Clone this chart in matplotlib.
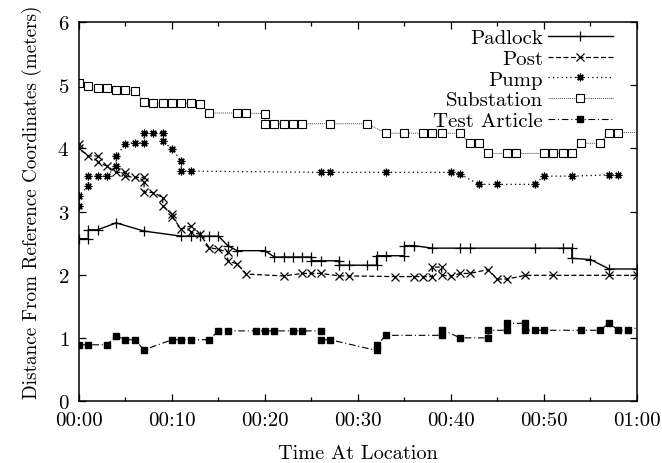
import matplotlib
matplotlib.use("Agg")
import matplotlib.pyplot as plt
from matplotlib.ticker import MultipleLocator, FuncFormatter

plt.rcParams['font.family'] = ['cmr10', 'DejaVu Serif']
plt.rcParams['axes.formatter.use_mathtext'] = True
plt.rcParams['font.size'] = 15

# time in minutes, distance in meters
padlock_t = [0, 1, 1, 2, 4, 7, 11, 12, 13, 14, 15, 16, 17, 20, 21, 22, 23, 24, 25, 25, 26, 28, 28, 29,
             31, 32, 32, 33, 35, 35, 36, 38, 41, 42, 49, 52, 53, 53, 55, 57, 60]
padlock_d = [2.57, 2.57, 2.71, 2.71, 2.82, 2.69, 2.61, 2.61, 2.61, 2.61, 2.61, 2.46, 2.38, 2.38, 2.28,
             2.28, 2.28, 2.28, 2.28, 2.22, 2.22, 2.22, 2.15, 2.15, 2.15, 2.15, 2.30, 2.30, 2.30, 2.46,
             2.46, 2.42, 2.42, 2.42, 2.42, 2.42, 2.42, 2.26, 2.24, 2.09, 2.09]

post_t = [0, 0, 1, 2, 2, 3, 4, 5, 5, 6, 7, 7, 7, 8, 9, 9, 10, 10, 11, 12, 12, 13, 14, 15, 16, 16, 17, 18,
          22, 24, 25, 26, 28, 29, 34, 36, 37, 38, 38, 39, 39, 40, 41, 42, 44, 45, 46, 48, 51, 57, 60]
post_d = [4.07, 4.00, 3.88, 3.88, 3.78, 3.72, 3.62, 3.62, 3.56, 3.54, 3.54, 3.46, 3.31, 3.30, 3.22, 3.09,
          2.96, 2.92, 2.72, 2.77, 2.67, 2.64, 2.43, 2.40, 2.36, 2.22, 2.17, 2.01, 1.98, 2.02, 2.02, 2.02,
          1.98, 1.98, 1.97, 1.97, 1.97, 1.97, 2.12, 2.12, 1.99, 1.98, 2.02, 2.02, 2.08, 1.93, 1.93, 1.99,
          1.99, 1.99, 1.99]

pump_t = [0, 0, 1, 1, 2, 3, 4, 4, 5, 6, 7, 7, 8, 9, 9, 10, 11, 11, 12, 26, 27, 33, 40, 41, 43, 45, 49,
          50, 53, 57, 58]
pump_d = [3.09, 3.25, 3.41, 3.56, 3.56, 3.56, 3.72, 3.88, 4.07, 4.09, 4.09, 4.25, 4.25, 4.25, 4.12, 3.99,
          3.80, 3.64, 3.64, 3.62, 3.62, 3.62, 3.62, 3.59, 3.43, 3.43, 3.43, 3.56, 3.56, 3.58, 3.58]

substation_t = [0, 1, 2, 3, 4, 5, 6, 7, 8, 9, 10, 11, 12, 13, 14, 17, 18, 20, 20, 21, 22, 23, 24, 27, 31,
                33, 35, 37, 38, 39, 41, 42, 43, 44, 46, 47, 50, 51, 52, 53, 54, 56, 57, 58, 61]
substation_d = [5.04, 4.99, 4.96, 4.95, 4.93, 4.92, 4.91, 4.74, 4.72, 4.72, 4.72, 4.72, 4.71, 4.70, 4.56,
                4.56, 4.56, 4.55, 4.39, 4.39, 4.39, 4.39, 4.39, 4.39, 4.39, 4.24, 4.24, 4.24, 4.24, 4.24,
                4.24, 4.08, 4.08, 3.92, 3.92, 3.92, 3.92, 3.92, 3.92, 3.92, 4.08, 4.08, 4.25, 4.25, 4.25]

test_t = [0, 1, 3, 4, 5, 6, 7, 10, 11, 12, 14, 15, 16, 19, 20, 21, 23, 24, 26, 26, 27, 32, 32, 33, 39, 39,
          41, 44, 44, 46, 46, 48, 48, 49, 50, 54, 56, 57, 58, 59, 61]
test_d = [0.89, 0.89, 0.89, 1.03, 0.97, 0.97, 0.81, 0.97, 0.97, 0.97, 0.97, 1.11, 1.11, 1.11, 1.11, 1.11,
          1.11, 1.11, 1.11, 0.97, 0.97, 0.80, 0.88, 1.04, 1.04, 1.13, 1.00, 1.00, 1.12, 1.12, 1.23, 1.23,
          1.12, 1.12, 1.12, 1.12, 1.12, 1.23, 1.12, 1.12, 1.20]

fig = plt.figure(figsize=(6.62, 4.64), dpi=100)
ax = fig.add_axes([0.1193, 0.1336, 0.8429, 0.8168])

ax.plot(padlock_t, padlock_d, color='black', lw=1.0, ls='-', marker='+', ms=7, mew=0.9, label='Padlock')
ax.plot(post_t, post_d, color='black', lw=0.9, ls=(0, (4, 2)), marker='x', ms=5.5, mew=0.9, label='Post')
ax.plot(pump_t, pump_d, color='black', lw=0.9, ls=(0, (1, 2.5)), marker=(8, 2, 0), ms=5.5, mew=0.9,
        label='Pump')
ax.plot(substation_t, substation_d, color='#444444', lw=0.7, ls=(0, (1, 1)), marker='s', ms=5.5,
        mfc='white', mec='black', mew=0.8, label='Substation')
ax.plot(test_t, test_d, color='black', lw=0.8, ls=(0, (6, 2.5, 1, 2.5)), marker='s', ms=5, mfc='black',
        mec='black', label='Test Article')

ax.set_xlim(0, 60)
ax.set_ylim(0, 6)
ax.xaxis.set_major_locator(MultipleLocator(10))
ax.xaxis.set_minor_locator(MultipleLocator(5))
ax.yaxis.set_major_locator(MultipleLocator(1))
ax.xaxis.set_major_formatter(FuncFormatter(lambda v, p: '%02d:%02d' % (int(v) // 60, int(v) % 60) if v < 60 else '01:00'))
ax.tick_params(which='both', direction='in', top=True, right=True, labelsize=15, width=0.9)
ax.tick_params(which='major', length=5, pad=7)
ax.tick_params(which='minor', length=3)
for s in ax.spines.values():
    s.set_linewidth(1.1)

ax.set_xlabel('Time At Location', fontsize=14.6, labelpad=11)
ax.set_ylabel('Distance From Reference Coordinates (meters)', fontsize=13.8, labelpad=11, y=0.528)

ax.legend(loc='upper right', bbox_to_anchor=(0.975, 1.01), frameon=False, markerfirst=False,
          handlelength=3.1, handletextpad=0.25, labelspacing=0.1, borderpad=0, fontsize=15)

fig.savefig('out.png', dpi=100)
